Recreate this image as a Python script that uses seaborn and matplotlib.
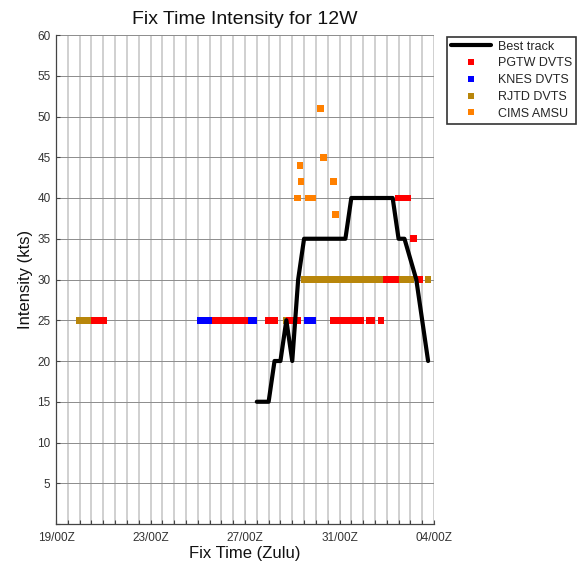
import matplotlib
matplotlib.use("Agg")
import matplotlib.pyplot as plt
import matplotlib.dates as mdates
from matplotlib.lines import Line2D
import pandas as pd
import seaborn as sns

sns.set_theme(style="white")
plt.rcParams['font.family'] = ['Liberation Sans', 'DejaVu Sans']

YEAR = "2014"

# Best track (6-hourly), "MM-DD HH"
best_times = ["07-27 12", "07-27 18", "07-28 00", "07-28 06", "07-28 12", "07-28 18",
              "07-29 00", "07-29 06", "07-29 12", "07-29 18", "07-30 00", "07-30 06",
              "07-30 12", "07-30 18", "07-31 00", "07-31 06", "07-31 12", "07-31 18",
              "08-01 00", "08-01 06", "08-01 12", "08-01 18", "08-02 00", "08-02 06",
              "08-02 12", "08-02 18", "08-03 06", "08-03 12", "08-03 18"]
best_kts = [15, 15, 15, 20, 20, 25,
            20, 30, 35, 35, 35, 35,
            35, 35, 35, 35, 40, 40,
            40, 40, 40, 40, 40, 40,
            35, 35, 30, 25, 20]

# PGTW Dvorak fixes
pgtw_times = ["07-20 15", "07-20 18", "07-20 21", "07-21 00",
              "07-25 18", "07-25 21", "07-26 00", "07-26 03", "07-26 06", "07-26 09",
              "07-26 12", "07-26 15", "07-26 18", "07-27 00",
              "07-28 00", "07-28 03", "07-28 06",
              "07-28 21", "07-29 00", "07-29 03", "07-29 06",
              "07-30 18", "07-30 21", "07-31 00", "07-31 03", "07-31 06", "07-31 09",
              "07-31 12", "07-31 15", "07-31 18", "07-31 21",
              "08-01 06", "08-01 09", "08-01 18",
              "08-02 00", "08-02 03", "08-02 06", "08-02 09",
              "08-02 12", "08-02 15", "08-02 18", "08-02 21",
              "08-03 03", "08-03 09"]
pgtw_kts = [25, 25, 25, 25,
            25, 25, 25, 25, 25, 25,
            25, 25, 25, 25,
            25, 25, 25,
            25, 25, 25, 25,
            25, 25, 25, 25, 25, 25,
            25, 25, 25, 25,
            25, 25, 25,
            30, 30, 30, 30,
            40, 40, 40, 40,
            35, 30]

# KNES Dvorak fixes
knes_times = ["07-25 03", "07-25 06", "07-25 09", "07-25 12",
              "07-26 21", "07-27 06", "07-27 09",
              "07-29 15", "07-29 18", "07-29 21"]
knes_kts = [25, 25, 25, 25,
            25, 25, 25,
            25, 25, 25]

# RJTD Dvorak fixes
rjtd_times = ["07-20 00", "07-20 03", "07-20 06", "07-20 09", "07-28 18",
              "07-29 12", "07-29 15", "07-29 18", "07-29 21",
              "07-30 00", "07-30 03", "07-30 06", "07-30 09", "07-30 12",
              "07-30 15", "07-30 18", "07-30 21", "07-31 00", "07-31 03",
              "07-31 06", "07-31 09", "07-31 12", "07-31 15", "07-31 18",
              "07-31 21", "08-01 00", "08-01 03", "08-01 06", "08-01 09",
              "08-01 12", "08-01 15", "08-01 18", "08-01 21", "08-02 00",
              "08-02 03", "08-02 06", "08-02 09", "08-02 12", "08-02 15",
              "08-02 18", "08-02 21", "08-03 00", "08-03 18"]
rjtd_kts = [25, 25, 25, 25, 25] + [30] * 38

# CIMS AMSU estimates
cims_times = ["07-29 05", "07-29 08", "07-29 09", "07-29 16", "07-29 21",
              "07-30 05", "07-30 08", "07-30 18", "07-30 20"]
cims_kts = [40, 44, 42, 40, 40, 51, 45, 42, 38]

sources = ["PGTW DVTS", "KNES DVTS", "RJTD DVTS", "CIMS AMSU"]
colors = {"PGTW DVTS": "#ff0000", "KNES DVTS": "#0000ff",
          "RJTD DVTS": "#b8860b", "CIMS AMSU": "#ff8000"}


def to_time(strings):
    return pd.to_datetime([f"{YEAR}-{s}" for s in strings], format="%Y-%m-%d %H")


best = pd.DataFrame({"time": to_time(best_times), "kts": best_kts})

# row order sets stacking: KNES underneath, then RJTD, then PGTW, then CIMS
fixes = pd.concat([
    pd.DataFrame({"time": to_time(knes_times), "kts": knes_kts, "source": "KNES DVTS"}),
    pd.DataFrame({"time": to_time(rjtd_times), "kts": rjtd_kts, "source": "RJTD DVTS"}),
    pd.DataFrame({"time": to_time(pgtw_times), "kts": pgtw_kts, "source": "PGTW DVTS"}),
    pd.DataFrame({"time": to_time(cims_times), "kts": cims_kts, "source": "CIMS AMSU"}),
], ignore_index=True)

fig = plt.figure(figsize=(5.81, 5.66), dpi=100)
ax = fig.add_axes([56 / 581, 42 / 566, 378 / 581, 489 / 566])

sns.scatterplot(data=fixes, x="time", y="kts", hue="source", hue_order=sources,
                palette=colors, marker="s", s=23, linewidth=0, ax=ax,
                legend=False, zorder=3)
sns.lineplot(data=best, x="time", y="kts", color="black", linewidth=3.0,
             ax=ax, zorder=4)

x0 = pd.Timestamp(f"{YEAR}-07-19 00:00")
x1 = pd.Timestamp(f"{YEAR}-08-04 00:00")
ax.set_xlim(x0, x1)
ax.set_ylim(0, 60)

ax.xaxis.set_major_locator(mdates.DayLocator(bymonthday=[19, 23, 27, 31, 4]))
ax.xaxis.set_major_formatter(mdates.DateFormatter("%d/%HZ"))
ax.xaxis.set_minor_locator(mdates.HourLocator(byhour=[0, 12]))
ax.set_yticks(range(0, 61, 5))
ax.set_yticklabels([""] + [str(v) for v in range(5, 61, 5)])

ax.grid(True, axis="x", which="both", color="#c8c8c8", linewidth=1.2)
ax.grid(True, axis="y", which="major", color="#8c8c8c", linewidth=0.7)
ax.set_axisbelow(True)

ax.tick_params(axis="x", which="both", direction="in", length=3, width=0.8,
               color="#444444", labelsize=8.5, labelcolor="#333333", pad=6)
ax.tick_params(axis="y", which="major", direction="in", length=3, width=0.8,
               color="#444444", labelsize=8.5, labelcolor="#333333", pad=4)
ax.tick_params(left=True, bottom=True)
ax.xaxis.set_tick_params(which="minor", bottom=True)

for side in ("top", "right"):
    ax.spines[side].set_visible(False)
for side in ("left", "bottom"):
    ax.spines[side].set_color("#444444")
    ax.spines[side].set_linewidth(0.9)

ax.set_title("Fix Time Intensity for 12W", fontsize=14, pad=8, color="#111111")
ax.set_xlabel("Fix Time (Zulu)", fontsize=12, labelpad=1, color="#111111")
ax.set_ylabel("Intensity (kts)", fontsize=12, labelpad=3, color="#111111")

handles = [Line2D([0], [0], color="black", linewidth=3.0)]
handles += [Line2D([0], [0], linestyle="none", marker="s", markersize=4.5,
                   markerfacecolor=colors[s], markeredgewidth=0) for s in sources]
labels = ["Best track"] + sources
leg = fig.legend(handles, labels, loc="upper left",
                 bbox_to_anchor=(447 / 581, 1 - 37 / 566),
                 fontsize=9, frameon=True, fancybox=False, framealpha=1,
                 edgecolor="#333333", borderpad=0.3, labelspacing=0.38,
                 handlelength=3.2, handletextpad=0.6, borderaxespad=0)
leg.get_frame().set_linewidth(1.2)

fig.savefig("out.png", dpi=100)
